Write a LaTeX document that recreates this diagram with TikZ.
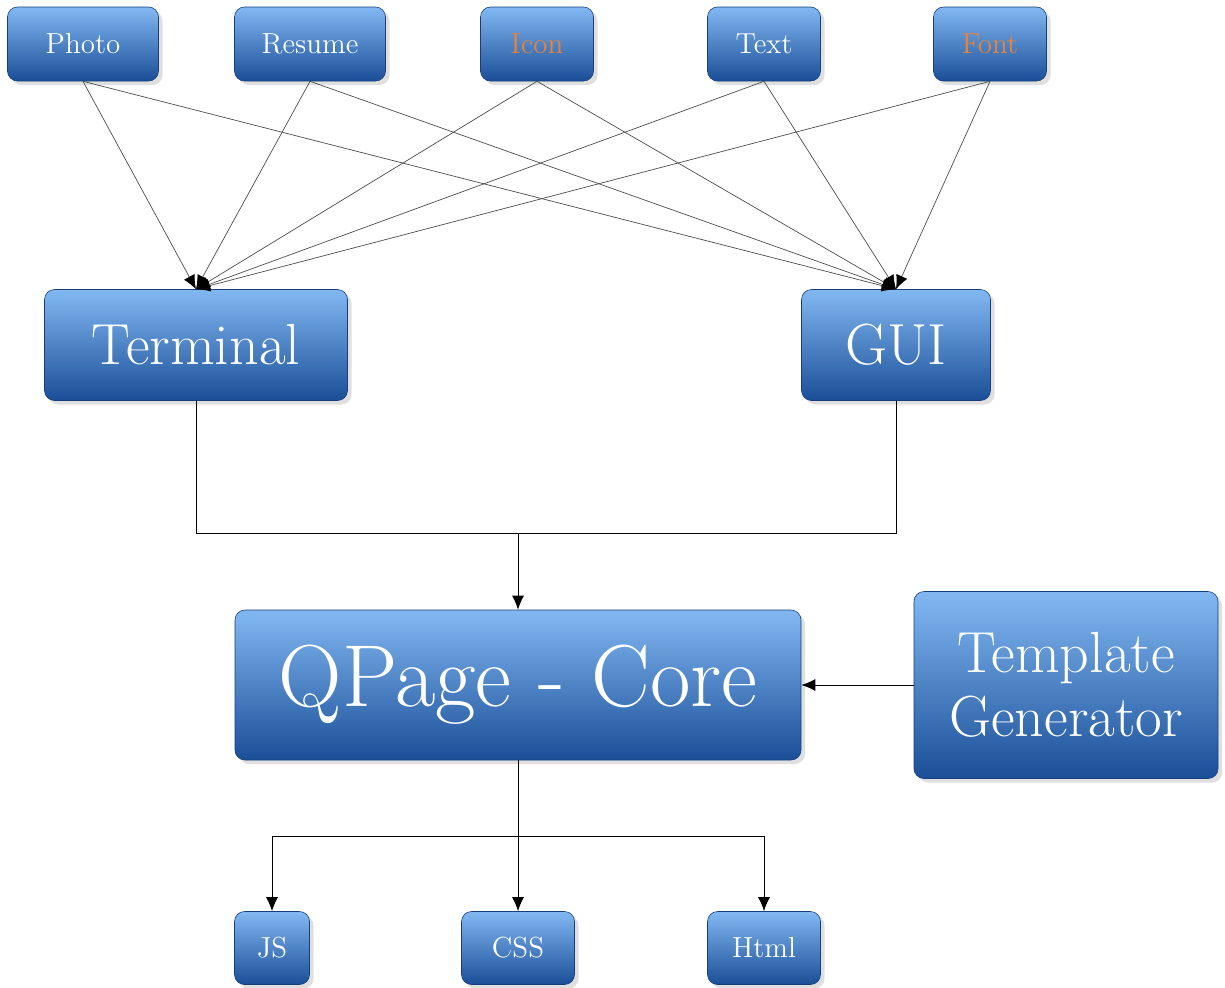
\documentclass[tikz,border=0pt]{standalone}
\usepackage{tikz}
\usetikzlibrary{arrows.meta,shadows}
\definecolor{boxtop}{HTML}{82B8F2}
\definecolor{boxmid}{HTML}{3A80D5}
\definecolor{boxbot}{HTML}{1A4F98}
\definecolor{accent}{HTML}{E8823A}
\newcommand{\boxfont}[1]{\fontsize{#1}{1.1\dimexpr#1\relax}\selectfont}
\tikzset{
	bluebox/.style={draw=boxbot!80!black, line width=0.3pt, rounded corners=5pt,
		top color=boxtop, middle color=boxmid, bottom color=boxbot,
		drop shadow={opacity=0.25, shadow xshift=2pt, shadow yshift=-2pt},
		text=white, inner sep=0pt, align=center},
	feed/.style={draw=black!70, line width=0.35pt, -{Latex[length=7pt,width=6pt,black]}},
	flow/.style={draw=black, line width=0.5pt, -{Latex[length=7pt,width=6pt]}}
}

\begin{document}
\begin{tikzpicture}[x=0.5pt,y=-0.5pt]
	\useasboundingbox (0,0) rectangle (1225,987);

	% inputs
	\node[bluebox, minimum width=75.5pt, minimum height=37pt, font=\boxfont{14.5pt}] (Photo) at (83,44) {Photo};
	\node[bluebox, minimum width=75.5pt, minimum height=37pt, font=\boxfont{14.5pt}] (Resume) at (310,44) {Resume};
	\node[bluebox, minimum width=56.5pt, minimum height=37pt, font=\boxfont{14.5pt}, text=accent] (Icon) at (537,44) {Icon};
	\node[bluebox, minimum width=56.5pt, minimum height=37pt, font=\boxfont{14.5pt}] (Text) at (764,44) {Text};
	\node[bluebox, minimum width=56.5pt, minimum height=37pt, font=\boxfont{14.5pt}, text=accent] (Font) at (990,44) {Font};

	% front ends
	\node[bluebox, minimum width=151.5pt, minimum height=55.5pt, font=\boxfont{29pt}] (Terminal) at (196,345) {Terminal};
	\node[bluebox, minimum width=94.5pt, minimum height=55.5pt, font=\boxfont{29pt}] (GUI) at (896,345) {GUI};

	% core
	\node[bluebox, minimum width=283pt, minimum height=75pt, font=\boxfont{44pt}] (Core) at (518,685) {QPage - Core};
	\node[bluebox, minimum width=152pt, minimum height=93.5pt, font=\boxfont{29pt}] (Template) at (1066,685) {Template\\Generator};

	% outputs
	\node[bluebox, minimum width=37.5pt, minimum height=36.5pt, font=\boxfont{14.5pt}] (JS) at (272,948) {JS};
	\node[bluebox, minimum width=56.5pt, minimum height=36.5pt, font=\boxfont{14.5pt}] (CSS) at (518,948) {CSS};
	\node[bluebox, minimum width=56.5pt, minimum height=36.5pt, font=\boxfont{14.5pt}] (Html) at (764,948) {Html};

	\coordinate (join) at (518,533);
	\coordinate (split) at (518,836);

	\foreach \src in {Photo,Resume,Icon,Text,Font}{
		\draw[feed] (\src.south) -- (Terminal.north);
		\draw[feed] (\src.south) -- (GUI.north);
	}

	\draw[line width=0.5pt] (Terminal.south) |- (join) -| (GUI.south);
	\draw[flow] (join) -- (Core.north);
	\draw[flow] (Template.west) -- (Core.east);
	\draw[line width=0.5pt] (Core.south) -- (split);
	\draw[flow] (split) -| (JS.north);
	\draw[flow] (split) -- (CSS.north);
	\draw[flow] (split) -| (Html.north);
\end{tikzpicture}
\end{document}
